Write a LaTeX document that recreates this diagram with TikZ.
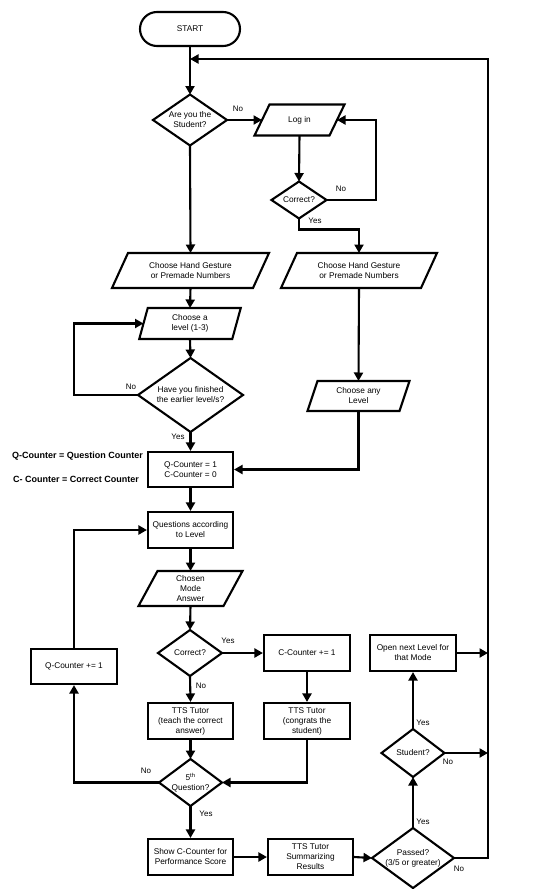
\documentclass[tikz,border=0pt]{standalone}
\usepackage{fontspec}
\setmainfont{Liberation Sans}
\usetikzlibrary{arrows.meta}
\tikzset{
  every node/.style={font=\fontsize{8.3}{10}\selectfont, inner sep=1pt},
  box/.style={draw, line width=2.1pt, align=center},
  geom/.style={inner sep=0pt, outer sep=0pt},
  outline/.style={draw, line width=2.1pt, line join=miter},
  arr/.style={line width=2.1pt, -{Triangle[length=8.5pt,width=9pt]}},
  lbl/.style={font=\fontsize{8}{9}\selectfont},
  legend/.style={font=\bfseries\fontsize{9}{10}\selectfont, anchor=east}
}
\newcommand\mkdia[6]{%
  \node[geom, minimum width=#4pt, minimum height=#5pt] (#1) at (#2,#3) {};
  \draw[outline] (#1.north) -- (#1.east) -- (#1.south) -- (#1.west) -- cycle;
  \node[align=center] at (#1.center) {#6};}
\newcommand\mkpara[7]{%
  \node[geom, minimum width=#4pt, minimum height=#5pt] (#1) at (#2,#3) {};
  \draw[outline] ([xshift={#6*0.5pt}]#1.north west) -- ([xshift={#6*0.5pt}]#1.north east)
     -- ([xshift={-#6*0.5pt}]#1.south east) -- ([xshift={-#6*0.5pt}]#1.south west) -- cycle;
  \node[align=center] at (#1.center) {#7};}
\begin{document}
\begin{tikzpicture}[x=1pt,y=-1pt]
\fill[white] (0,0) rectangle (552,889);
\useasboundingbox (0,0) rectangle (552,889);

% nodes
\node[box, minimum width=100pt, minimum height=34pt, rounded corners=17pt] (start) at (190,29) {START};
\mkdia{q1}{190}{120}{74}{51}{Are you the\\Student?}
\mkpara{login}{299.5}{120}{75}{31}{15}{Log in}
\mkdia{c1}{299}{200}{55}{37}{Correct?}
\mkpara{ch1}{190.5}{270.5}{141}{35}{16}{Choose Hand Gesture\\or Premade Numbers}
\mkpara{ch2}{359}{270.5}{140}{35}{16}{Choose Hand Gesture\\or Premade Numbers}
\mkpara{lvl}{190}{323.5}{93}{31}{8.5}{Choose a\\level (1-3)}
\mkdia{q2}{190.5}{395}{105}{74}{Have you finished\\the earlier level/s?}
\mkpara{any}{358.5}{396}{92}{30}{10}{Choose any\\Level}
\node[box, minimum width=85pt, minimum height=35pt] (qc) at (190.5,469.5) {Q-Counter = 1\\C-Counter = 0};
\node[box, minimum width=85pt, minimum height=36pt] (quest) at (190.5,530) {Questions according\\to Level};
\mkpara{mode}{190.5}{588.5}{85}{35}{19}{Chosen\\Mode\\Answer}
\mkdia{c2}{190}{653}{64}{46}{Correct?}
\node[box, minimum width=86pt, minimum height=36pt] (cplus) at (307,653) {C-Counter += 1};
\node[box, minimum width=86pt, minimum height=35pt] (qplus) at (74,666.5) {Q-Counter += 1};
\node[box, minimum width=86pt, minimum height=36pt] (open) at (413,653) {Open next Level for\\that Mode};
\node[box, minimum width=85pt, minimum height=36pt] (teach) at (190.5,721) {TTS Tutor\\(teach the correct\\answer)};
\node[box, minimum width=86pt, minimum height=36pt] (cong) at (307,721) {TTS Tutor\\(congrats the\\student)};
\mkdia{q5}{190.5}{782.5}{63}{47}{5\textsuperscript{th}\\Question?}
\node[box, minimum width=85pt, minimum height=36pt] (show) at (190.5,857) {Show C-Counter for\\Performance Score};
\node[box, minimum width=85pt, minimum height=36pt] (summ) at (310.5,857) {TTS Tutor\\Summarizing\\Results};
\mkdia{passed}{413}{858}{82}{60}{Passed?\\(3/5 or greater)}
\mkdia{student}{413}{753}{63}{48}{Student?}

% legend
\node[legend] (legq) at (144,456) {Q-Counter = Question Counter};
\node[legend] (legc) at (140,479) {C- Counter = Correct Counter};

% helper coordinates
\coordinate (j1) at (190,59);
\coordinate (rx) at (488,0);
\coordinate (lx) at (376,0);
\coordinate (lx2) at (74,0);

% connectors
\draw[arr] (start.south) -- (q1.north);
\draw[arr] (q1.east) -- (login.west);
\draw[arr] (login.south) -- (c1.north);
\draw[arr] (c1.east) -| (lx |- login.east) -- (login.east);
\draw[arr] (c1.south) -- ++(0,11) -| (ch2.north);
\draw[arr] (q1.south) -- (ch1.north);
\draw[arr] (ch1.south) -- (lvl.north);
\draw[arr] (lvl.south) -- (q2.north);
\draw[arr] (q2.west) -| (lx2 |- lvl.west) -- (lvl.west);
\draw[arr] (q2.south) -- (qc.north);
\draw[arr] (ch2.south) -- (any.north);
\draw[arr] (any.south) |- (qc.east);
\draw[arr] (qc.south) -- (quest.north);
\draw[arr] (quest.south) -- (mode.north);
\draw[arr] (mode.south) -- (c2.north);
\draw[arr] (c2.east) -- (cplus.west);
\draw[arr] (c2.south) -- (teach.north);
\draw[arr] (cplus.south) -- (cong.north);
\draw[arr] (teach.south) -- (q5.north);
\draw[arr] (cong.south) |- (q5.east);
\draw[arr] (q5.west) -| (qplus.south);
\draw[arr] (qplus.north) |- (quest.west);
\draw[arr] (q5.south) -- (show.north);
\draw[arr] (show.east) -- (summ.west);
\draw[arr] (summ.east) -- (passed.west);
\draw[arr] (passed.north) -- (student.south);
\draw[arr] (student.north) -- (open.south);
\draw[arr] (student.east) -- (student.east -| rx);
\draw[arr] (open.east) -- (open.east -| rx);
\draw[arr] (passed.east) -| (rx |- j1) -- (j1);

% labels
\node[lbl] (l1) at (238,109) {No};
\node[lbl] (l2) at (341,189) {No};
\node[lbl] (l3) at (315,221) {Yes};
\node[lbl] (l4) at (131,387) {No};
\node[lbl] (l5) at (178,437) {Yes};
\node[lbl] (l6) at (228,641) {Yes};
\node[lbl] (l7) at (201,686) {No};
\node[lbl] (l8) at (146,771) {No};
\node[lbl] (l9) at (206,814) {Yes};
\node[lbl] (l10) at (423,822) {Yes};
\node[lbl] (l11) at (459,869) {No};
\node[lbl] (l12) at (423,723) {Yes};
\node[lbl] (l13) at (448,762) {No};
\end{tikzpicture}
\end{document}
